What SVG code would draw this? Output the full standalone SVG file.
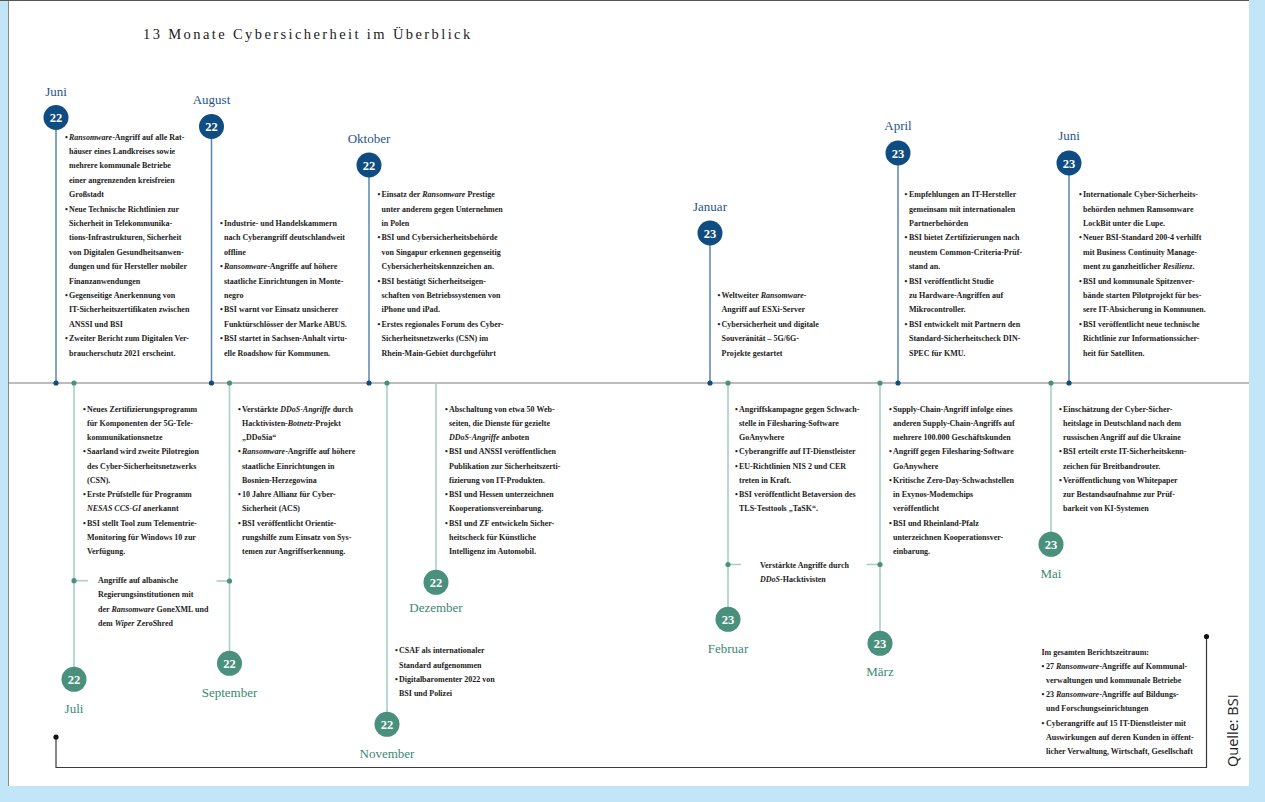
<svg xmlns="http://www.w3.org/2000/svg" width="1265" height="802" viewBox="0 0 1265 802">
<style>
.t{font-family:"Liberation Serif",serif;font-size:8px;font-weight:bold;fill:#1c1c1c}
.i{font-style:italic}
.mt{font-family:"Liberation Serif",serif;font-size:13px;fill:#1f5587;text-anchor:middle}
.mb{font-family:"Liberation Serif",serif;font-size:13px;fill:#3a8874;text-anchor:middle}
.n{font-family:"Liberation Serif",serif;font-size:12.5px;font-weight:bold;fill:#fff;text-anchor:middle}
.ct{fill:#0f4c81}
.cb{fill:#4a917d}
.lt{stroke:#5a84ae;stroke-width:1.5;fill:none}
.lb{stroke:#a8d0c4;stroke-width:1.6;fill:none}
.dt{fill:#0f4c81}
.db{fill:#4a917d}
</style>
<rect x="0" y="0" width="1265" height="802" fill="#c3e5f8"/>
<rect x="8" y="0" width="1241" height="786" fill="#ffffff"/>
<line x1="8.5" y1="0" x2="8.5" y2="786" stroke="#8a8a8a" stroke-width="1"/>
<line x1="0" y1="0.5" x2="1249" y2="0.5" stroke="#555" stroke-width="1"/>
<text x="143" y="39" font-family="Liberation Serif, serif" font-size="14.5" letter-spacing="2.4" fill="#222">13 Monate Cybersicherheit im Überblick</text>

<g id="connectors">
<line x1="8" y1="383" x2="1249" y2="383" stroke="#7a7a7a" stroke-width="1.2"/>
<line class="lt" x1="56" y1="117.5" x2="56" y2="383"/>
<line class="lt" x1="211.5" y1="126.5" x2="211.5" y2="383"/>
<line class="lt" x1="369" y1="165" x2="369" y2="383"/>
<line class="lt" x1="710" y1="233" x2="710" y2="383"/>
<line class="lt" x1="898" y1="153" x2="898" y2="383"/>
<line class="lt" x1="1069" y1="163" x2="1069" y2="383"/>
<line class="lb" x1="74" y1="383" x2="74" y2="679"/>
<line class="lb" x1="229.5" y1="383" x2="229.5" y2="663"/>
<line class="lb" x1="387" y1="383" x2="387" y2="724"/>
<line class="lb" x1="436" y1="383" x2="436" y2="582"/>
<line class="lb" x1="728" y1="383" x2="728" y2="619"/>
<line class="lb" x1="880" y1="383" x2="880" y2="643"/>
<line class="lb" x1="1051" y1="383" x2="1051" y2="544"/>
<line class="lb" x1="74" y1="580.7" x2="88" y2="580.7"/>
<line class="lb" x1="216.5" y1="581" x2="229.5" y2="581"/>
<line class="lb" x1="728" y1="564.5" x2="741" y2="564.5"/>
<line class="lb" x1="866.5" y1="564.5" x2="880" y2="564.5"/>
<circle class="dt" cx="56" cy="383" r="2.6"/>
<circle class="dt" cx="211.5" cy="383" r="2.6"/>
<circle class="dt" cx="369" cy="383" r="2.6"/>
<circle class="dt" cx="710" cy="383" r="2.6"/>
<circle class="dt" cx="898" cy="383" r="2.6"/>
<circle class="dt" cx="1069" cy="383" r="2.6"/>
<circle class="db" cx="74" cy="383" r="2.6"/>
<circle class="db" cx="229.5" cy="383" r="2.6"/>
<circle class="db" cx="387" cy="383" r="2.6"/>
<circle class="db" cx="728" cy="383" r="2.6"/>
<circle class="db" cx="880" cy="383" r="2.6"/>
<circle class="db" cx="1051" cy="383" r="2.6"/>
<circle class="db" cx="74" cy="580.7" r="2.6"/>
<circle class="db" cx="229.5" cy="581" r="2.6"/>
<circle class="db" cx="728" cy="564.5" r="2.6"/>
<circle class="db" cx="880" cy="564.5" r="2.6"/>
<polyline points="56,737 56,767.5 1206.5,767.5 1206.5,636.5" fill="none" stroke="#3a3a3a" stroke-width="1.2"/>
<circle cx="56" cy="737" r="2.6" fill="#111"/>
<circle cx="1206.5" cy="636.5" r="2.6" fill="#111"/>
</g>

<g id="jun22">
<circle class="ct" cx="56" cy="117.5" r="12.5"/>
<text class="n" x="56" y="122">22</text>
<text class="mt" x="56" y="95.5">Juni</text>
<g class="t">
<text y="139.5"><tspan x="65">•</tspan><tspan x="69" class="i">Ransomware</tspan>-Angriff auf alle Rat-</text>
<text x="69" y="153.9">häuser eines Landkreises sowie</text>
<text x="69" y="168.3">mehrere kommunale Betriebe</text>
<text x="69" y="182.7">einer angrenzenden kreisfreien</text>
<text x="69" y="197.1">Großstadt</text>
<text y="211.5"><tspan x="65">•</tspan><tspan x="69">Neue Technische Richtlinien zur</tspan></text>
<text x="69" y="225.9">Sicherheit in Telekommunika-</text>
<text x="69" y="240.3">tions-Infrastrukturen, Sicherheit</text>
<text x="69" y="254.7">von Digitalen Gesundheitsanwen-</text>
<text x="69" y="269.1">dungen und für Hersteller mobiler</text>
<text x="69" y="283.5">Finanzanwendungen</text>
<text y="297.9"><tspan x="65">•</tspan><tspan x="69">Gegenseitige Anerkennung von</tspan></text>
<text x="69" y="312.3">IT-Sicherheitszertifikaten zwischen</text>
<text x="69" y="326.7">ANSSI und BSI</text>
<text y="341.1"><tspan x="65">•</tspan><tspan x="69">Zweiter Bericht zum Digitalen Ver-</tspan></text>
<text x="69" y="355.5">braucherschutz 2021 erscheint.</text>
</g>
</g>

<g id="aug22">
<circle class="ct" cx="211.5" cy="126.5" r="12.5"/>
<text class="n" x="211.5" y="131">22</text>
<text class="mt" x="211.5" y="104">August</text>
<g class="t">
<text y="225.9"><tspan x="220">•</tspan><tspan x="224">Industrie- und Handelskammern</tspan></text>
<text x="224" y="240.3">nach Cyberangriff deutschlandweit</text>
<text x="224" y="254.7">offline</text>
<text y="269.1"><tspan x="220">•</tspan><tspan x="224" class="i">Ransomware</tspan>-Angriffe auf höhere</text>
<text x="224" y="283.5">staatliche Einrichtungen in Monte-</text>
<text x="224" y="297.9">negro</text>
<text y="312.3"><tspan x="220">•</tspan><tspan x="224">BSI warnt vor Einsatz unsicherer</tspan></text>
<text x="224" y="326.7">Funktürschlösser der Marke ABUS.</text>
<text y="341.1"><tspan x="220">•</tspan><tspan x="224">BSI startet in Sachsen-Anhalt virtu-</tspan></text>
<text x="224" y="355.5">elle Roadshow für Kommunen.</text>
</g>
</g>

<g id="okt22">
<circle class="ct" cx="369" cy="165" r="12.5"/>
<text class="n" x="369" y="169.5">22</text>
<text class="mt" x="369" y="143">Oktober</text>
<g class="t">
<text y="197.1"><tspan x="377.5">•</tspan><tspan x="381.5">Einsatz der </tspan><tspan class="i">Ransomware</tspan> Prestige</text>
<text x="381.5" y="211.5">unter anderem gegen Unternehmen</text>
<text x="381.5" y="225.9">in Polen</text>
<text y="240.3"><tspan x="377.5">•</tspan><tspan x="381.5">BSI und Cybersicherheitsbehörde</tspan></text>
<text x="381.5" y="254.7">von Singapur erkennen gegenseitig</text>
<text x="381.5" y="269.1">Cybersicherheitskennzeichen an.</text>
<text y="283.5"><tspan x="377.5">•</tspan><tspan x="381.5">BSI bestätigt Sicherheitseigen-</tspan></text>
<text x="381.5" y="297.9">schaften von Betriebssystemen von</text>
<text x="381.5" y="312.3">iPhone und iPad.</text>
<text y="326.7"><tspan x="377.5">•</tspan><tspan x="381.5">Erstes regionales Forum des Cyber-</tspan></text>
<text x="381.5" y="341.1">Sicherheitsnetzwerks (CSN) im</text>
<text x="381.5" y="355.5">Rhein-Main-Gebiet durchgeführt</text>
</g>
</g>

<g id="jan23">
<circle class="ct" cx="710" cy="233" r="12.5"/>
<text class="n" x="710" y="237.5">23</text>
<text class="mt" x="710" y="211">Januar</text>
<g class="t">
<text y="297.9"><tspan x="717.5">•</tspan><tspan x="721.5">Weltweiter </tspan><tspan class="i">Ransomware</tspan>-</text>
<text x="721.5" y="312.3">Angriff auf ESXi-Server</text>
<text y="326.7"><tspan x="717.5">•</tspan><tspan x="721.5">Cybersicherheit und digitale</tspan></text>
<text x="721.5" y="341.1">Souveränität – 5G/6G-</text>
<text x="721.5" y="355.5">Projekte gestartet</text>
</g>
</g>

<g id="apr23">
<circle class="ct" cx="898" cy="153" r="12.5"/>
<text class="n" x="898" y="157.5">23</text>
<text class="mt" x="898" y="130">April</text>
<g class="t">
<text y="197.1"><tspan x="904.5">•</tspan><tspan x="909">Empfehlungen an IT-Hersteller</tspan></text>
<text x="909" y="211.5">gemeinsam mit internationalen</text>
<text x="909" y="225.9">Partnerbehörden</text>
<text y="240.3"><tspan x="904.5">•</tspan><tspan x="909">BSI bietet Zertifizierungen nach</tspan></text>
<text x="909" y="254.7">neustem Common-Criteria-Prüf-</text>
<text x="909" y="269.1">stand an.</text>
<text y="283.5"><tspan x="904.5">•</tspan><tspan x="909">BSI veröffentlicht Studie</tspan></text>
<text x="909" y="297.9">zu Hardware-Angriffen auf</text>
<text x="909" y="312.3">Mikrocontroller.</text>
<text y="326.7"><tspan x="904.5">•</tspan><tspan x="909">BSI entwickelt mit Partnern den</tspan></text>
<text x="909" y="341.1">Standard-Sicherheitscheck DIN-</text>
<text x="909" y="355.5">SPEC für KMU.</text>
</g>
</g>

<g id="jun23">
<circle class="ct" cx="1069" cy="163" r="12.5"/>
<text class="n" x="1069" y="167.5">23</text>
<text class="mt" x="1069" y="140">Juni</text>
<g class="t">
<text y="197.1"><tspan x="1079">•</tspan><tspan x="1083">Internationale Cyber-Sicherheits-</tspan></text>
<text x="1083" y="211.5">behörden nehmen Ramsomware</text>
<text x="1083" y="225.9">LockBit unter die Lupe.</text>
<text y="240.3"><tspan x="1079">•</tspan><tspan x="1083">Neuer BSI-Standard 200-4 verhilft</tspan></text>
<text x="1083" y="254.7">mit Business Continuity Manage-</text>
<text x="1083" y="269.1">ment zu ganzheitlicher <tspan class="i">Resilienz</tspan>.</text>
<text y="283.5"><tspan x="1079">•</tspan><tspan x="1083">BSI und kommunale Spitzenver-</tspan></text>
<text x="1083" y="297.9">bände starten Pilotprojekt für bes-</text>
<text x="1083" y="312.3">sere IT-Absicherung in Kommunen.</text>
<text y="326.7"><tspan x="1079">•</tspan><tspan x="1083">BSI veröffentlicht neue technische</tspan></text>
<text x="1083" y="341.1">Richtlinie zur Informationssicher-</text>
<text x="1083" y="355.5">heit für Satelliten.</text>
</g>
</g>

<g id="jul22">
<circle class="cb" cx="74" cy="679.3" r="12.5"/>
<text class="n" x="74" y="683.8">22</text>
<text class="mb" x="74" y="713">Juli</text>
<g class="t">
<text y="411.5"><tspan x="83">•</tspan><tspan x="87">Neues Zertifizierungsprogramm</tspan></text>
<text x="87" y="425.75">für Komponenten der 5G-Tele-</text>
<text x="87" y="440">kommunikationsnetze</text>
<text y="454.25"><tspan x="83">•</tspan><tspan x="87">Saarland wird zweite Pilotregion</tspan></text>
<text x="87" y="468.5">des Cyber-Sicherheitsnetzwerks</text>
<text x="87" y="482.75">(CSN).</text>
<text y="497"><tspan x="83">•</tspan><tspan x="87">Erste Prüfstelle für Programm</tspan></text>
<text x="87" y="511.25"><tspan class="i">NESAS CCS-GI</tspan> anerkannt</text>
<text y="525.5"><tspan x="83">•</tspan><tspan x="87">BSI stellt Tool zum Telementrie-</tspan></text>
<text x="87" y="539.75">Monitoring für Windows 10 zur</text>
<text x="87" y="554">Verfügung.</text>
<text x="98" y="583">Angriffe auf albanische</text>
<text x="98" y="597.25">Regierungsinstitutionen mit</text>
<text x="98" y="611.5">der <tspan class="i">Ransomware</tspan> GoneXML und</text>
<text x="98" y="625.75">dem <tspan class="i">Wiper</tspan> ZeroShred</text>
</g>
</g>

<g id="sep22">
<circle class="cb" cx="229.5" cy="663.3" r="12.5"/>
<text class="n" x="229.5" y="667.8">22</text>
<text class="mb" x="229.5" y="696.5">September</text>
<g class="t">
<text y="411.5"><tspan x="238">•</tspan><tspan x="242">Verstärkte </tspan><tspan class="i">DDoS-Angriffe</tspan> durch</text>
<text x="242" y="425.75">Hacktivisten-<tspan class="i">Botnetz</tspan>-Projekt</text>
<text x="242" y="440">„DDoSia“</text>
<text y="454.25"><tspan x="238">•</tspan><tspan x="242" class="i">Ransomware</tspan>-Angriffe auf höhere</text>
<text x="242" y="468.5">staatliche Einrichtungen in</text>
<text x="242" y="482.75">Bosnien-Herzegowina</text>
<text y="497"><tspan x="238">•</tspan><tspan x="242">10 Jahre Allianz für Cyber-</tspan></text>
<text x="242" y="511.25">Sicherheit (ACS)</text>
<text y="525.5"><tspan x="238">•</tspan><tspan x="242">BSI veröffentlicht Orientie-</tspan></text>
<text x="242" y="539.75">rungshilfe zum Einsatz von Sys-</text>
<text x="242" y="554">temen zur Angriffserkennung.</text>
</g>
</g>

<g id="nov22">
<circle class="cb" cx="387" cy="724.3" r="12.5"/>
<text class="n" x="387" y="728.8">22</text>
<text class="mb" x="387" y="757.5">November</text>
<g class="t">
<text y="653.3"><tspan x="395">•</tspan><tspan x="399">CSAF als internationaler</tspan></text>
<text x="399" y="667.6">Standard aufgenommen</text>
<text y="681.9"><tspan x="395">•</tspan><tspan x="399">Digitalbaromenter 2022 von</tspan></text>
<text x="399" y="696.2">BSI und Polizei</text>
</g>
</g>

<g id="dez22">
<circle class="cb" cx="436" cy="582.3" r="12.5"/>
<text class="n" x="436" y="586.8">22</text>
<text class="mb" x="436" y="612">Dezember</text>
<g class="t">
<text y="411.5"><tspan x="445">•</tspan><tspan x="449">Abschaltung von etwa 50 Web-</tspan></text>
<text x="449" y="425.75">seiten, die Dienste für gezielte</text>
<text x="449" y="440"><tspan class="i">DDoS-Angriffe</tspan> anboten</text>
<text y="454.25"><tspan x="445">•</tspan><tspan x="449">BSI und ANSSI veröffentlichen</tspan></text>
<text x="449" y="468.5">Publikation zur Sicherheitszerti-</text>
<text x="449" y="482.75">fizierung von IT-Produkten.</text>
<text y="497"><tspan x="445">•</tspan><tspan x="449">BSI und Hessen unterzeichnen</tspan></text>
<text x="449" y="511.25">Kooperationsvereinbarung.</text>
<text y="525.5"><tspan x="445">•</tspan><tspan x="449">BSI und ZF entwickeln Sicher-</tspan></text>
<text x="449" y="539.75">heitscheck für Künstliche</text>
<text x="449" y="554">Intelligenz im Automobil.</text>
</g>
</g>

<g id="feb23">
<circle class="cb" cx="728" cy="619.3" r="12.5"/>
<text class="n" x="728" y="623.8">23</text>
<text class="mb" x="728" y="653">Februar</text>
<g class="t">
<text y="411.5"><tspan x="735">•</tspan><tspan x="739">Angriffskampagne gegen Schwach-</tspan></text>
<text x="739" y="425.75">stelle in Filesharing-Software</text>
<text x="739" y="440">GoAnywhere</text>
<text y="454.25"><tspan x="735">•</tspan><tspan x="739">Cyberangriffe auf IT-Dienstleister</tspan></text>
<text y="468.5"><tspan x="735">•</tspan><tspan x="739">EU-Richtlinien NIS 2 und CER</tspan></text>
<text x="739" y="482.75">treten in Kraft.</text>
<text y="497"><tspan x="735">•</tspan><tspan x="739">BSI veröffentlicht Betaversion des</tspan></text>
<text x="739" y="511.25">TLS-Testtools „TaSK“.</text>
<text x="760" y="568">Verstärkte Angriffe durch</text>
<text x="760" y="582.3"><tspan class="i">DDoS</tspan>-Hacktivisten</text>
</g>
</g>

<g id="mar23">
<circle class="cb" cx="880" cy="643.3" r="12.5"/>
<text class="n" x="880" y="647.8">23</text>
<text class="mb" x="880" y="676">März</text>
<g class="t">
<text y="411.5"><tspan x="889">•</tspan><tspan x="893">Supply-Chain-Angriff infolge eines</tspan></text>
<text x="893" y="425.75">anderen Supply-Chain-Angriffs auf</text>
<text x="893" y="440">mehrere 100.000 Geschäftskunden</text>
<text y="454.25"><tspan x="889">•</tspan><tspan x="893">Angriff gegen Filesharing-Software</tspan></text>
<text x="893" y="468.5">GoAnywhere</text>
<text y="482.75"><tspan x="889">•</tspan><tspan x="893">Kritische Zero-Day-Schwachstellen</tspan></text>
<text x="893" y="497">in Exynos-Modemchips</text>
<text x="893" y="511.25">veröffentlicht</text>
<text y="525.5"><tspan x="889">•</tspan><tspan x="893">BSI und Rheinland-Pfalz</tspan></text>
<text x="893" y="539.75">unterzeichnen Kooperationsver-</text>
<text x="893" y="554">einbarung.</text>
</g>
</g>

<g id="mai23">
<circle class="cb" cx="1051" cy="544.3" r="12.5"/>
<text class="n" x="1051" y="548.8">23</text>
<text class="mb" x="1051" y="577.5">Mai</text>
<g class="t">
<text y="411.5"><tspan x="1059">•</tspan><tspan x="1063">Einschätzung der Cyber-Sicher-</tspan></text>
<text x="1063" y="425.75">heitslage in Deutschland nach dem</text>
<text x="1063" y="440">russischen Angriff auf die Ukraine</text>
<text y="454.25"><tspan x="1059">•</tspan><tspan x="1063">BSI erteilt erste IT-Sicherheitskenn-</tspan></text>
<text x="1063" y="468.5">zeichen für Breitbandrouter.</text>
<text y="482.75"><tspan x="1059">•</tspan><tspan x="1063">Veröffentlichung von Whitepaper</tspan></text>
<text x="1063" y="497">zur Bestandsaufnahme zur Prüf-</text>
<text x="1063" y="511.25">barkeit von KI-Systemen</text>
</g>
</g>

<g id="summary" class="t">
<text x="1041.5" y="654.5">Im gesamten Berichtszeitraum:</text>
<text y="668.7"><tspan x="1041.5">•</tspan><tspan x="1046">27 </tspan><tspan class="i">Ransomware</tspan>-Angriffe auf Kommunal-</text>
<text x="1046" y="682.9">verwaltungen und kommunale Betriebe</text>
<text y="697.1"><tspan x="1041.5">•</tspan><tspan x="1046">23 </tspan><tspan class="i">Ransomware</tspan>-Angriffe auf Bildungs-</text>
<text x="1046" y="711.4">und Forschungseinrichtungen</text>
<text y="725.6"><tspan x="1041.5">•</tspan><tspan x="1046">Cyberangriffe auf 15 IT-Dienstleister mit</tspan></text>
<text x="1046" y="739.8">Auswirkungen auf deren Kunden in öffent-</text>
<text x="1046" y="754">licher Verwaltung, Wirtschaft, Gesellschaft</text>
</g>

<text transform="translate(1238,767) rotate(-90)" font-family="Open Sans, sans-serif" font-size="14.5" fill="#1a1a1a">Quelle: BSI</text>
</svg>
